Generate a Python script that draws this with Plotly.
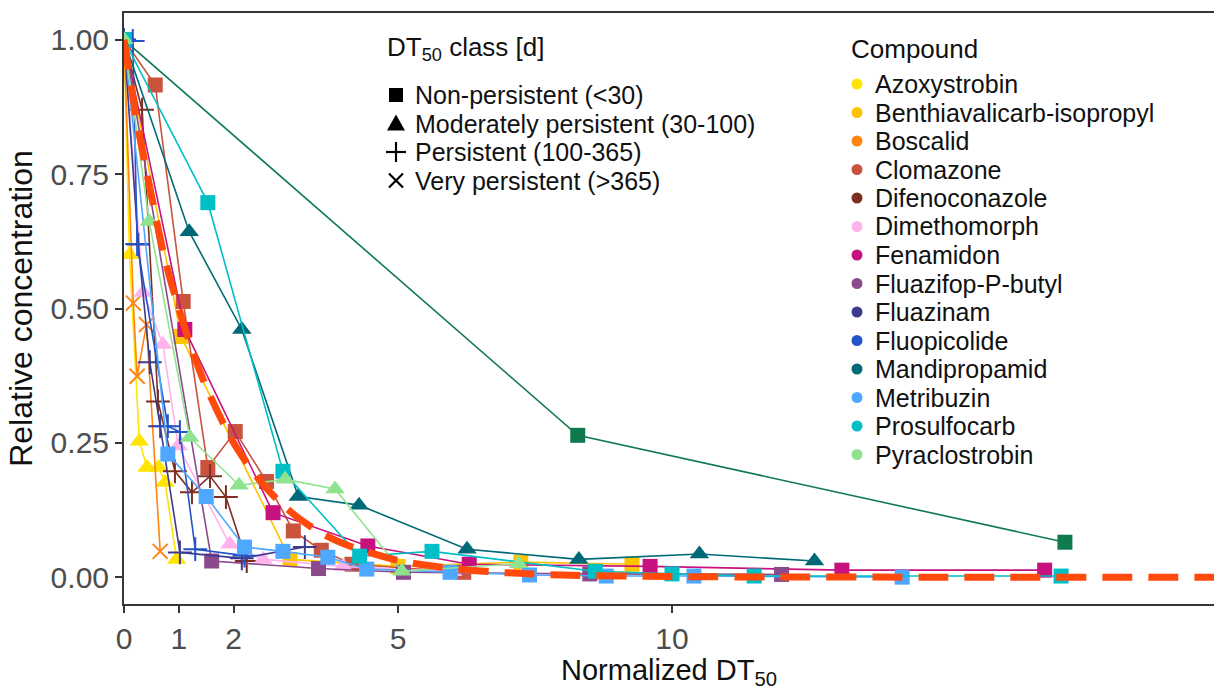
import plotly.graph_objects as go

# ---------------- data ----------------
azoxy_x = [0, 0.10, 0.28, 0.42, 0.63, 0.75, 0.96]
azoxy_y = [1, 0.60, 0.253, 0.204, 0.204, 0.176, 0.033]

benth_x = [0, 1.04, 3.03, 5.0, 7.24, 9.27]
benth_y = [1, 0.448, 0.033, 0.020, 0.028, 0.024]

boscalid_x = [0, 0.17, 0.24, 0.41, 0.66]
boscalid_y = [1, 0.51, 0.374, 0.47, 0.048]

clomazone_x = [0, 0.57, 1.08, 1.53, 2.03, 2.60, 3.09, 3.60, 4.16, 6.2]
clomazone_y = [1, 0.916, 0.513, 0.204, 0.271, 0.178, 0.086, 0.050, 0.024, 0.009]

difeno_x = [0, 0.33, 0.62, 0.93, 1.24, 1.57, 1.86, 2.24]
difeno_y = [1, 0.87, 0.327, 0.197, 0.158, 0.188, 0.149, 0.030]

dimetho_x = [0, 0.35, 0.71, 0.99, 1.93, 2.54, 4.0, 6.0]
dimetho_y = [1, 0.53, 0.433, 0.244, 0.061, 0.033, 0.020, 0.010]

fenamidon_x = [0, 1.11, 2.72, 4.45, 6.3, 9.6, 13.1, 16.8]
fenamidon_y = [1, 0.461, 0.120, 0.058, 0.024, 0.020, 0.013, 0.013]

fluazifop_x = [0, 1.6, 3.55, 5.1, 8.5, 12.0]
fluazifop_y = [1, 0.030, 0.016, 0.009, 0.006, 0.005]

fluazinam_x = [0, 0.26, 0.47, 0.66, 1.02, 2.15, 3.3]
fluazinam_y = [1, 0.619, 0.40, 0.281, 0.046, 0.035, 0.056]

fluopicolide_x = [0, 0.16, 0.24, 0.80, 1.02, 1.30, 2.20]
fluopicolide_y = [1, 0.998, 0.62, 0.281, 0.270, 0.052, 0.040]

mandi_x = [0, 1.19, 2.15, 3.18, 4.29, 6.26, 8.3, 10.5, 12.6]
mandi_y = [1, 0.643, 0.461, 0.150, 0.134, 0.052, 0.033, 0.043, 0.030]

metribuzin_x = [0, 0.80, 1.50, 2.20, 2.90, 3.72, 4.43, 5.95, 7.4, 8.8, 10.4, 14.2]
metribuzin_y = [1, 0.229, 0.150, 0.056, 0.048, 0.037, 0.015, 0.009, 0.004, 0.002, 0.002, 0.0]

prosulfo_x = [0, 1.53, 2.90, 4.30, 5.62, 8.6, 10.0, 11.5, 17.1]
prosulfo_y = [1, 0.697, 0.197, 0.039, 0.048, 0.011, 0.006, 0.002, 0.002]

pyraclo_x = [0, 0.46, 1.20, 2.10, 2.94, 3.85, 5.07, 7.2]
pyraclo_y = [1, 0.662, 0.260, 0.171, 0.182, 0.164, 0.011, 0.025]

other_x = [0, 8.28, 17.17]
other_y = [1, 0.264, 0.065]

fit_x = [0, 0.25, 0.5, 0.75, 1, 1.25, 1.5, 2, 2.5, 3, 3.5, 4, 5, 6, 7, 8, 10, 12, 15, 20]
fit_y = [1, 0.84, 0.71, 0.59, 0.5, 0.42, 0.354, 0.25, 0.177, 0.125, 0.088, 0.0625,
         0.031, 0.016, 0.008, 0.004, 0.001, 0.0002, 0.0, 0.0]

compounds = ["Azoxystrobin", "Benthiavalicarb-isopropyl", "Boscalid", "Clomazone",
             "Difenoconazole", "Dimethomorph", "Fenamidon", "Fluazifop-P-butyl",
             "Fluazinam", "Fluopicolide", "Mandipropamid", "Metribuzin",
             "Prosulfocarb", "Pyraclostrobin"]
colors = ["#FFE400", "#FFC400", "#FF8410", "#C9533D", "#7E2F22", "#FFB3EC",
          "#C6117E", "#8B4A8C", "#3E3A8C", "#2453C6", "#006978", "#4FA8FF",
          "#00BFC6", "#8FE38F"]
classes = ["Moderately", "Non", "Very", "Non", "Persistent", "Moderately", "Non",
           "Non", "Persistent", "Persistent", "Moderately", "Non", "Non", "Moderately"]
class_labels = ["Non-persistent (<30)", "Moderately persistent (30-100)",
                "Persistent (100-365)", "Very persistent (>365)"]
xs = [azoxy_x, benth_x, boscalid_x, clomazone_x, difeno_x, dimetho_x, fenamidon_x,
      fluazifop_x, fluazinam_x, fluopicolide_x, mandi_x, metribuzin_x, prosulfo_x, pyraclo_x]
ys = [azoxy_y, benth_y, boscalid_y, clomazone_y, difeno_y, dimetho_y, fenamidon_y,
      fluazifop_y, fluazinam_y, fluopicolide_y, mandi_y, metribuzin_y, prosulfo_y, pyraclo_y]
other_color = "#0F7A4D"
fit_color = "#FF4A0C"

x_tickvals = [0, 1, 2, 5, 10]
y_tickvals = [0, 0.25, 0.5, 0.75, 1.0]

# ---------------- styling ----------------
W, H = 1214, 690
ML, MR, MT, MB = 124, 0, 13, 86
FONT = "Liberation Sans, Arial, sans-serif"
symbol_for = {"Non": ("square", 15, 0), "Moderately": ("triangle-up", 17, 0),
              "Persistent": ("cross-thin", 17, 2), "Very": ("x-thin", 15, 2)}

fig = go.Figure()

fig.add_trace(go.Scatter(x=other_x, y=other_y, mode="lines+markers", showlegend=False,
                         name="other", line=dict(color=other_color, width=1.6),
                         marker=dict(symbol="square", size=15, color=other_color)))

for name, c, cl, x, y in zip(compounds, colors, classes, xs, ys):
    sym, sz, lw = symbol_for[cl]
    mk = dict(symbol=sym, size=sz, color=c)
    if lw:
        mk["line"] = dict(color=c, width=lw)
    fig.add_trace(go.Scatter(x=x, y=y, mode="lines+markers", name=name, showlegend=False,
                             line=dict(color=c, width=1.6), marker=mk))

fig.add_trace(go.Scatter(x=fit_x, y=fit_y, mode="lines", showlegend=False, name="fit",
                         line=dict(color=fit_color, width=7, dash="30px,16px",
                                   shape="spline", smoothing=0.8)))

axis_line = "#363636"
fig.update_xaxes(range=[0, (W - ML - MR) / 54.8], tickvals=x_tickvals,
                 ticktext=[str(v) for v in x_tickvals], showgrid=False, zeroline=False,
                 showline=True, mirror=True, linecolor=axis_line, linewidth=2,
                 ticks="outside", ticklen=7, tickwidth=2, tickcolor=axis_line,
                 tickfont=dict(family=FONT, size=30, color="#4D4D4D"),
                 title=dict(text="Normalized DT<sub>50</sub>", standoff=6,
                            font=dict(family=FONT, size=29, color="#111111")))
fig.update_yaxes(range=[-0.05, 1.05], tickvals=y_tickvals,
                 ticktext=["%.2f" % v for v in y_tickvals], showgrid=False, zeroline=False,
                 showline=True, linecolor=axis_line, linewidth=2,
                 ticks="outside", ticklen=7, tickwidth=2, tickcolor=axis_line,
                 tickfont=dict(family=FONT, size=30, color="#4D4D4D"),
                 title=dict(text="Relative concentration", standoff=8,
                            font=dict(family=FONT, size=32, color="#111111")))

# ---------------- custom legends (annotations + shapes) ----------------
pw, ph = W - ML - MR, H - MT - MB
def px(xp):
    return (xp - ML) / pw
def py(yp):
    return 1 - (yp - MT) / ph

LEG = 25
ROW = 28.5
ann = []
shapes = []
ann.append(dict(x=px(386), y=py(49), xref="paper", yref="paper", xanchor="left",
                yanchor="middle", showarrow=False, text="DT<sub>50</sub> class [d]",
                borderpad=0, font=dict(family=FONT, size=LEG + 1, color="#111111")))
sym_line = dict(color="#000000", width=2.2)
for i, lab in enumerate(class_labels):
    yc = 95 + ROW * i
    cx = 396
    if i == 0:
        shapes.append(dict(type="rect", xref="paper", yref="paper",
                           x0=px(cx - 7), x1=px(cx + 7), y0=py(yc + 7), y1=py(yc - 7),
                           fillcolor="#000000", line=dict(width=0)))
    elif i == 1:
        path = "M %f %f L %f %f L %f %f Z" % (px(cx - 9), py(yc + 7), px(cx + 9), py(yc + 7),
                                               px(cx), py(yc - 9))
        shapes.append(dict(type="path", xref="paper", yref="paper", path=path,
                           fillcolor="#000000", line=dict(width=0)))
    elif i == 2:
        shapes.append(dict(type="line", xref="paper", yref="paper",
                           x0=px(cx - 10), x1=px(cx + 10), y0=py(yc), y1=py(yc), line=sym_line))
        shapes.append(dict(type="line", xref="paper", yref="paper",
                           x0=px(cx), x1=px(cx), y0=py(yc - 10), y1=py(yc + 10), line=sym_line))
    else:
        shapes.append(dict(type="line", xref="paper", yref="paper",
                           x0=px(cx - 7), x1=px(cx + 7), y0=py(yc - 7), y1=py(yc + 7), line=sym_line))
        shapes.append(dict(type="line", xref="paper", yref="paper",
                           x0=px(cx - 7), x1=px(cx + 7), y0=py(yc + 7), y1=py(yc - 7), line=sym_line))
    ann.append(dict(x=px(414), y=py(yc), xref="paper", yref="paper", xanchor="left",
                    yanchor="middle", showarrow=False, text=lab, borderpad=0,
                    font=dict(family=FONT, size=LEG, color="#111111")))

ann.append(dict(x=px(850), y=py(49), xref="paper", yref="paper", xanchor="left",
                yanchor="middle", showarrow=False, text="Compound", borderpad=0,
                font=dict(family=FONT, size=LEG + 1, color="#111111")))
for i, (name, c) in enumerate(zip(compounds, colors)):
    yc = 84 + ROW * i
    r = 5.5
    shapes.append(dict(type="circle", xref="paper", yref="paper",
                       x0=px(857 - r), x1=px(857 + r), y0=py(yc + r), y1=py(yc - r),
                       fillcolor=c, line=dict(width=0)))
    ann.append(dict(x=px(874), y=py(yc), xref="paper", yref="paper", xanchor="left",
                    yanchor="middle", showarrow=False, text=name, borderpad=0,
                    font=dict(family=FONT, size=LEG, color="#111111")))

fig.update_layout(width=W, height=H, margin=dict(l=ML, r=MR, t=MT, b=MB),
                  plot_bgcolor="white", paper_bgcolor="white",
                  annotations=ann, shapes=shapes, showlegend=False)

fig.write_html("out.html")
